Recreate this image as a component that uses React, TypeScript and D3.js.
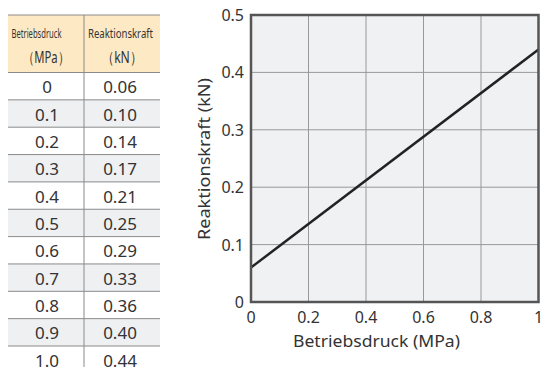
import React from "react";
import * as d3 from "d3";

const pressures = [0, 0.1, 0.2, 0.3, 0.4, 0.5, 0.6, 0.7, 0.8, 0.9, 1.0];
const pressureLabels = ["0", "0.1", "0.2", "0.3", "0.4", "0.5", "0.6", "0.7", "0.8", "0.9", "1.0"];
const forces = [0.06, 0.10, 0.14, 0.17, 0.21, 0.25, 0.29, 0.33, 0.36, 0.40, 0.44];
const forceLabels = ["0.06", "0.10", "0.14", "0.17", "0.21", "0.25", "0.29", "0.33", "0.36", "0.40", "0.44"];
const xTicks = [0, 0.2, 0.4, 0.6, 0.8, 1];
const yTicks = [0, 0.1, 0.2, 0.3, 0.4, 0.5];
const headerCol1 = ["Betriebsdruck", "（MPa）"];
const headerCol2 = ["Reaktionskraft", "（kN）"];
const xTitle = "Betriebsdruck (MPa)";
const yTitle = "Reaktionskraft (kN)";

const W = 541, H = 367;
const FONT = "'Noto Sans', 'Open Sans', sans-serif";

export default function App() {
  const x = d3.scaleLinear().domain([0, 1]).range([251, 538.5]);
  const y = d3.scaleLinear().domain([0, 0.5]).range([302, 15]);
  // the chart draws a straight line between the first and last table values
  const n = pressures.length - 1;
  const ends: [number, number][] = [[pressures[0], forces[0]], [pressures[n], forces[n]]];
  const linePath = d3.line<[number, number]>()
    .x((d) => x(d[0]))
    .y((d) => y(d[1]))(ends);

  const tL = 8, tM = 84, tR = 160;
  const headTop = 15, headBot = 72.5;
  const rowH = 27.35;
  const rowY = d3.scaleLinear().domain([0, 1]).range([headBot, headBot + rowH]);

  return (
    <svg width={W} height={H} style={{ position: "absolute", left: 0, top: 0, background: "#fff" }} fontFamily={FONT}>
      {/* table */}
      <rect x={tL} y={headTop} width={tR - tL} height={headBot - headTop} fill="#fde9c3" />
      {pressures.map((p, i) => (
        <rect key={"bg" + i} x={tL} y={rowY(i)} width={tR - tL} height={rowH} fill={i % 2 === 1 ? "#eef0f2" : "#fff"} />
      ))}
      <line x1={tL} x2={tR} y1={headTop} y2={headTop} stroke="#8a8a8a" strokeWidth={1} />
      <line x1={tL} x2={tR} y1={headBot} y2={headBot} stroke="#8a8a8a" strokeWidth={1} />
      {pressures.map((p, i) => i > 0 ? (
        <line key={"rl" + i} x1={tL} x2={tR} y1={rowY(i)} y2={rowY(i)} stroke="#8a8a8a" strokeWidth={1} />
      ) : null)}
      <line x1={tM} x2={tM} y1={headTop} y2={H} stroke="#8a8a8a" strokeWidth={1} />
      <text x={tL + 3.5} y={38} fontSize={12.5} fill="#333" textLength={50} lengthAdjust="spacingAndGlyphs">{headerCol1[0]}</text>
      <text x={(tL + tM) / 2} y={63} fontSize={16} fill="#333" textAnchor="middle" textLength={46} lengthAdjust="spacingAndGlyphs">{headerCol1[1]}</text>
      <text x={tM + 4} y={38} fontSize={12.5} fill="#333" textLength={65} lengthAdjust="spacingAndGlyphs">{headerCol2[0]}</text>
      <text x={(tM + tR) / 2} y={63} fontSize={16} fill="#333" textAnchor="middle" textLength={40} lengthAdjust="spacingAndGlyphs">{headerCol2[1]}</text>
      {pressureLabels.map((p, i) => (
        <text key={"p" + i} x={(tL + tM) / 2 + 1} y={rowY(i) + rowH / 2 + 7} fontSize={17} fill="#333" textAnchor="middle">{p}</text>
      ))}
      {forceLabels.map((f, i) => (
        <text key={"f" + i} x={(tM + tR) / 2 - 2} y={rowY(i) + rowH / 2 + 7} fontSize={17} fill="#333" textAnchor="middle">{f}</text>
      ))}

      {/* chart */}
      <rect x={x(0)} y={y(0.5)} width={x(1) - x(0)} height={y(0) - y(0.5)} fill="#f0f1f3" />
      {xTicks.slice(1, -1).map((t) => (
        <line key={"gx" + t} x1={x(t)} x2={x(t)} y1={y(0.5)} y2={y(0)} stroke="#999" strokeWidth={1} />
      ))}
      {yTicks.slice(1, -1).map((t) => (
        <line key={"gy" + t} x1={x(0)} x2={x(1)} y1={y(t)} y2={y(t)} stroke="#999" strokeWidth={1} />
      ))}
      <path d={linePath || ""} fill="none" stroke="#222" strokeWidth={2.5} />
      <rect x={x(0)} y={y(0.5)} width={x(1) - x(0)} height={y(0) - y(0.5)} fill="none" stroke="#555" strokeWidth={2.5} />
      {yTicks.map((t) => (
        <text key={"yt" + t} x={x(0) - 7} y={y(t) + 6} fontSize={16} fill="#333" textAnchor="end">{t === 0 ? "0" : d3.format(".1f")(t)}</text>
      ))}
      {xTicks.map((t) => (
        <text key={"xt" + t} x={x(t)} y={y(0) + 21} fontSize={16} fill="#333" textAnchor="middle">{t === 0 || t === 1 ? String(t) : d3.format(".1f")(t)}</text>
      ))}
      <text x={376.5} y={347} fontSize={17} fill="#333" textAnchor="middle" textLength={167} lengthAdjust="spacingAndGlyphs">{xTitle}</text>
      <text transform={`translate(210,159) rotate(-90)`} fontSize={17} fill="#333" textAnchor="middle" textLength={162} lengthAdjust="spacingAndGlyphs">{yTitle}</text>
    </svg>
  );
}
